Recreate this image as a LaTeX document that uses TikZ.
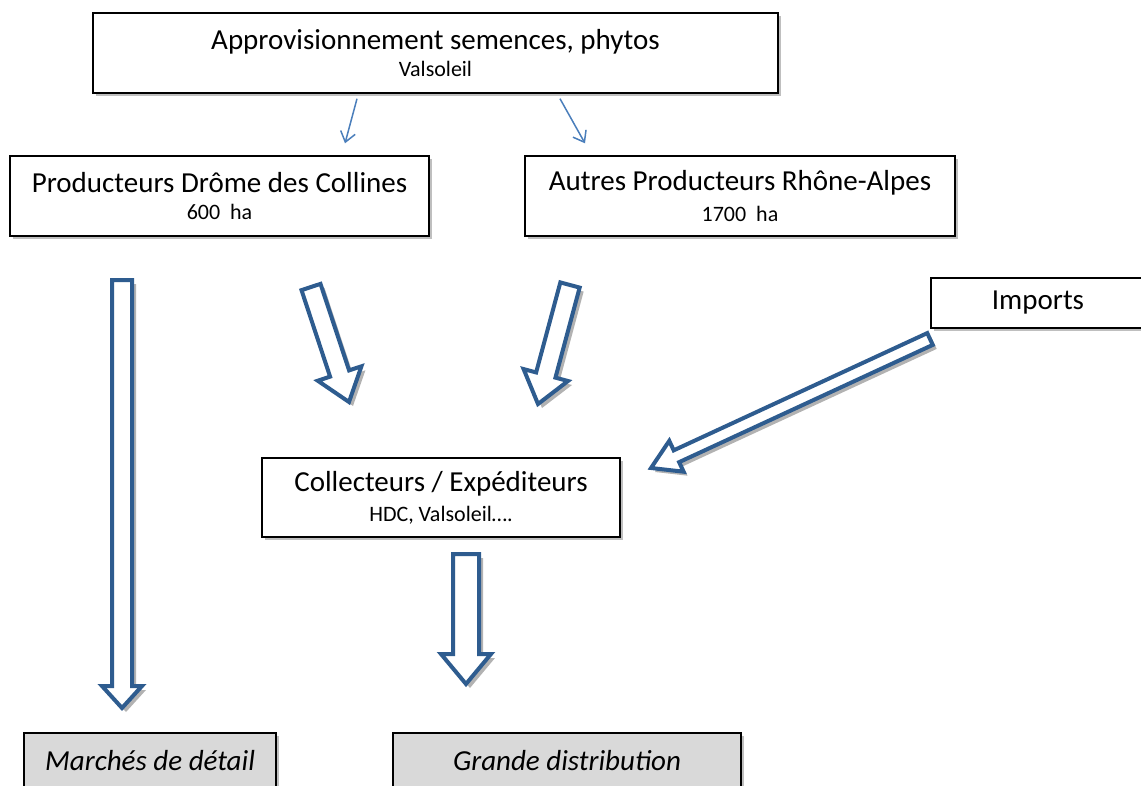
\documentclass[tikz,border=0pt]{standalone}
\usepackage{fontspec}
\setmainfont{Carlito}
\usetikzlibrary{calc,shadows,arrows.meta}
\definecolor{bablue}{HTML}{2E5C8F}
\definecolor{thinblue}{HTML}{4A7EBB}
\definecolor{graybox}{HTML}{D9D9D9}
\newcommand\bigfont{\fontsize{29}{32}\selectfont}
\newcommand\smallfont{\fontsize{22}{26}\selectfont}
\tikzset{
  box/.style={draw=black, line width=1.4pt, fill=white, align=center, inner sep=0pt,
    drop shadow={shadow xshift=3pt, shadow yshift=-3pt, opacity=0.25, fill=black}},
  outbox/.style={box, fill=graybox},
  thinarrow/.style={draw=thinblue, line width=1.5pt, -{Straight Barb[length=10pt,width=15pt]}},
  barrowstyle/.style={draw=bablue, fill=white, line width=4pt, line join=miter,
    drop shadow={shadow xshift=4pt, shadow yshift=-4pt, opacity=0.3, fill=black}}
}
% #1 start, #2 tip, #3 shaft half width, #4 head half width, #5 head length
\newcommand\blockarrow[5]{%
  \coordinate (bah) at ($(#2)!#5!(#1)$);
  \path[barrowstyle] ($(#1)!#3!90:(#2)$) -- ($(bah)!#3!90:(#2)$) -- ($(bah)!#4!90:(#2)$)
    -- (#2) -- ($(bah)!#4!-90:(#2)$) -- ($(bah)!#3!-90:(#2)$) -- ($(#1)!#3!-90:(#2)$) -- cycle;
}
\begin{document}
\begin{tikzpicture}[x=1pt,y=-1pt]
\useasboundingbox (0,0) rectangle (1141,785);

\node[box, minimum width=685pt, minimum height=80pt] (top) at (435.5,53)
  {\bigfont Approvisionnement semences, phytos\\[7pt]\smallfont Valsoleil};
\node[box, minimum width=419pt, minimum height=80pt] (prod) at (219.5,196)
  {\bigfont Producteurs Drôme des Collines\\[10pt]\smallfont 600~ ha};
\node[box, minimum width=430pt, minimum height=80pt] (autres) at (740,196)
  {\bigfont Autres Producteurs Rhône-Alpes\\[10pt]\smallfont 1700~ ha};
\node[box, minimum width=214pt, minimum height=50pt] (imports) at (1038,303)
  {\bigfont Imports};
\node[box, minimum width=358pt, minimum height=79pt] (collect) at (441,497.5)
  {\bigfont Collecteurs / Expéditeurs\\[9pt]\smallfont HDC, Valsoleil\dots.};
\node[outbox, minimum width=252pt, minimum height=56pt] (marches) at (150,761)
  {\bigfont\itshape Marchés de détail};
\node[outbox, minimum width=348pt, minimum height=56pt] (grande) at (567,761)
  {\bigfont\itshape Grande distribution};

% thin arrows
\draw[thinarrow] ($(top.south)+(-78.5,5)$) -- ($(prod.north)+(125.5,-12)$);
\draw[thinarrow] ($(top.south)+(124.5,5)$) -- ($(autres.north)+(-155,-12)$);

% block arrows
\coordinate (a1s) at (122,280); \coordinate (a1e) at (122,708);
\coordinate (a2s) at (311,287); \coordinate (a2e) at (349,402);
\coordinate (a3s) at (570,285); \coordinate (a3e) at (538,404);
\coordinate (a4s) at (930,339); \coordinate (a4e) at (651,468);
\coordinate (a5s) at (466,554); \coordinate (a5e) at (466,684);
\blockarrow{a1s}{a1e}{10pt}{20pt}{22pt}
\blockarrow{a2s}{a2e}{10pt}{23pt}{30pt}
\blockarrow{a3s}{a3e}{10pt}{23pt}{30pt}
\blockarrow{a4s}{a4e}{6.5pt}{17pt}{28pt}
\blockarrow{a5s}{a5e}{13pt}{25pt}{30pt}
\end{tikzpicture}
\end{document}
